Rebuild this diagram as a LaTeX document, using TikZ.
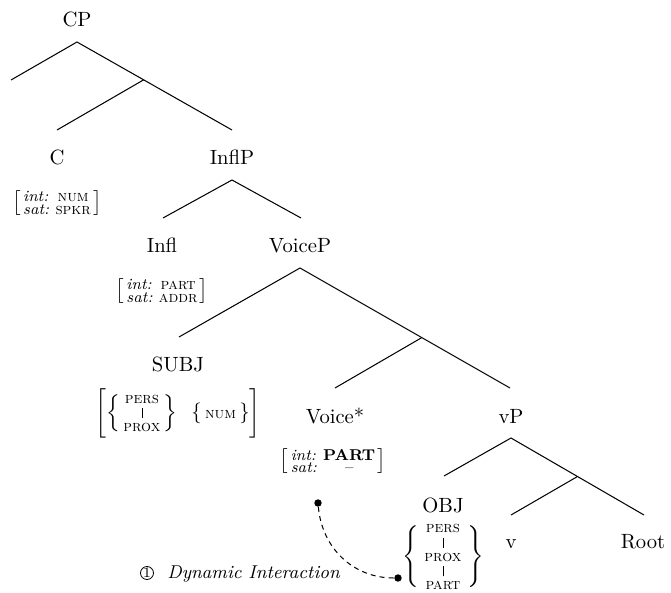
\documentclass[tikz,border=0pt]{standalone}
\usepackage{tikz}
\usetikzlibrary{calc}
\newcommand\featfont{\fontsize{7.6pt}{9pt}\selectfont}
\newcommand\fvals[4]{%
  $\left[\vcenter{\featfont\baselineskip=6.1pt\lineskiplimit=-100pt\lineskip=0pt
    \halign{\kern1.2pt\itshape##\hfil\kern3pt&\hfil##\hfil\kern1.2pt\cr#1&#2\cr#3&#4\cr}}\right]$}
\newcommand\fstack[1]{\vcenter{\featfont\baselineskip=6.8pt\lineskiplimit=-100pt\lineskip=0pt
    \halign{\hfil##\hfil\cr#1\crcr}}}
\newcommand\fbar{\rule[-0.6pt]{0.35pt}{5pt}}
\begin{document}
\begin{tikzpicture}[x=0.485pt,y=0.485pt,
  lab/.style={font=\normalsize, inner sep=0pt, anchor=base},
  feat/.style={inner sep=0pt},
  branch/.style={line width=0.5pt},
  dotnode/.style={circle, fill=black, inner sep=0pt, minimum size=3.6pt},
  link/.style={line width=0.5pt, dash pattern=on 2.4pt off 2pt}]
\useasboundingbox (0,0) rectangle (671,-593);

% labels
\node[lab] (CP) at (77,-27) {CP};
\node[lab] (C) at (57,-165) {C};
\node[lab] (InflP) at (232,-165) {InflP};
\node[lab] (Infl) at (162,-252) {Infl};
\node[lab] (VoiceP) at (300,-252) {VoiceP};
\node[lab] (SUBJ) at (178,-371) {SUBJ};
\node[lab] (Voice) at (335,-423) {Voice*};
\node[lab] (vP) at (511,-423) {vP};
\node[lab] (OBJ) at (443,-512) {OBJ};
\node[lab] (v) at (511,-548) {v};
\node[lab] (Root) at (643,-548) {Root};

% features
\node[feat] (Cf) at (57,-203) {\fvals{int:}{\textsc{num}}{sat:}{\textsc{spkr}}};
\node[feat] (If) at (162,-291) {\fvals{int:}{\textsc{part}}{sat:}{\textsc{addr}}};
\node[feat] (Vf) at (333,-461) {\fvals{int:}{\textbf{PART}}{sat:}{--}};
\node[feat] (Sf) at (178,-413) {$\left[\left\{\,\fstack{\textsc{pers}\cr\fbar\cr\textsc{prox}}\,\right\}\enspace\left\{\,\hbox{\featfont\textsc{num}}\,\right\}\vrule height 14pt depth 9pt width 0pt\right]$};
\node[feat] (Of) at (443,-557) {$\left\{\;\fstack{\textsc{pers}\cr\fbar\cr\textsc{prox}\cr\fbar\cr\textsc{part}}\;\right\}$};

% tree coordinates
\coordinate (cpA) at (77,-42);
\coordinate (cpL) at (11,-80);
\coordinate (cT) at (57,-130);
\coordinate (ipT) at (232,-130);
\coordinate (cpM) at ($(cpA)!0.43!(ipT)$);
\coordinate (ipA) at (232,-180);
\coordinate (iT) at (163,-218);
\coordinate (vpT) at (301,-218);
\coordinate (vpA) at (300,-268);
\coordinate (sT) at (179,-337);
\coordinate (vlT) at (510,-388);
\coordinate (vbM) at ($(vpA)!0.58!(vlT)$);
\coordinate (vsT) at (335,-388);
\coordinate (vlA) at (511,-438);
\coordinate (oT) at (444,-476);
\coordinate (rT) at (644,-515);
\coordinate (vlM) at ($(vlA)!0.5!(rT)$);
\coordinate (vT) at (511,-515);

% branches
\draw[branch] (cpL) -- (cpA) -- (ipT);
\draw[branch] (cpM) -- (cT);
\draw[branch] (iT) -- (ipA) -- (vpT);
\draw[branch] (sT) -- (vpA) -- (vlT);
\draw[branch] (vbM) -- (vsT);
\draw[branch] (oT) -- (vlA) -- (rT);
\draw[branch] (vlM) -- (vT);

% dynamic interaction
\node[dotnode] (d1) at (318,-503) {};
\node[dotnode] (d2) at (398,-578) {};
\draw[link] (d1) .. controls (322,-548) and (353,-578) .. (d2);
\node[circle, draw, line width=0.4pt, inner sep=0pt, minimum size=6.3pt, font=\scriptsize] (c1) at (147,-573) {1};
\node[font=\small\itshape, inner sep=0pt, anchor=base west] (dyn) at (167,-578) {Dynamic Interaction};
\end{tikzpicture}
\end{document}
